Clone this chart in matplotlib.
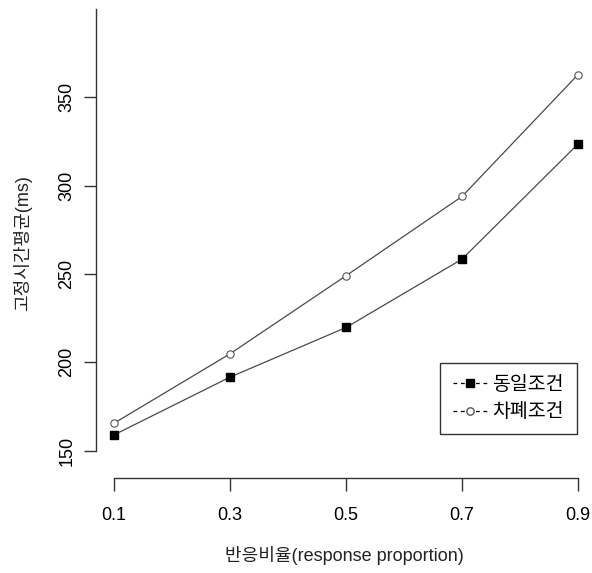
import matplotlib.pyplot as plt
from matplotlib.lines import Line2D

plt.rcParams['font.family'] = ['Liberation Sans', 'Noto Sans CJK KR', 'DejaVu Sans']

proportion = [0.1, 0.3, 0.5, 0.7, 0.9]
same_cond = [158.9, 191.6, 219.7, 258.4, 323.6]
mask_cond = [165.5, 204.8, 249.0, 293.9, 362.9]
y_ticks = [150, 200, 250, 300, 350]
series_names = ['동일조건', '차폐조건']

fig = plt.figure(figsize=(5.92, 5.73), dpi=100)
ax = fig.add_axes([96 / 592, 95 / 573, 496 / 592, 469 / 573])

ax.plot(proportion, same_cond, color='#4a4a4a', lw=0.9, marker='s', ms=5.8,
        mfc='black', mec='black')
ax.plot(proportion, mask_cond, color='#4a4a4a', lw=0.9, marker='o', ms=5.3,
        mfc='white', mec='#555555', mew=0.8)

ax.set_xlim(0.069, 0.924)
ax.set_ylim(134.5, 400)

for s in ['top', 'right']:
    ax.spines[s].set_visible(False)
ax.spines['left'].set_bounds(150, 400)
ax.spines['bottom'].set_bounds(0.1, 0.9)
for s in ['left', 'bottom']:
    ax.spines[s].set_color('#333333')
    ax.spines[s].set_linewidth(1)

ax.set_xticks(proportion)
ax.set_xticklabels([str(p) for p in proportion])
ax.set_yticks(y_ticks)
ax.set_yticklabels([str(v) for v in y_ticks], rotation=90, va='center')
ax.tick_params(direction='out', length=9, width=1, color='#333333',
               labelsize=13, pad=12)
ax.tick_params(axis='y', pad=6)

ax.set_xlabel('반응비율(response proportion)', fontsize=13, labelpad=16,
              color='#222222')
ax.set_ylabel('고정시간평균(ms)', fontsize=13, labelpad=19, color='#222222')

handles = [
    Line2D([], [], color='black', ls=(0, (3, 3)), lw=0.9, marker='s', ms=5.5,
           mfc='black', mec='black'),
    Line2D([], [], color='black', ls=(0, (3, 3)), lw=0.9, marker='o', ms=5.3,
           mfc='white', mec='#555555'),
]
leg = ax.legend(handles, series_names, loc='upper left',
                bbox_to_anchor=(440 / 592, 1 - 363 / 573),
                bbox_transform=fig.transFigure, fontsize=14, frameon=True,
                fancybox=False, edgecolor='#333333', framealpha=1,
                handlelength=1.75, borderpad=0.65, labelspacing=0.5,
                handletextpad=0.3, borderaxespad=0)
leg.get_frame().set_linewidth(1)

fig.savefig('out.png', dpi=100)
